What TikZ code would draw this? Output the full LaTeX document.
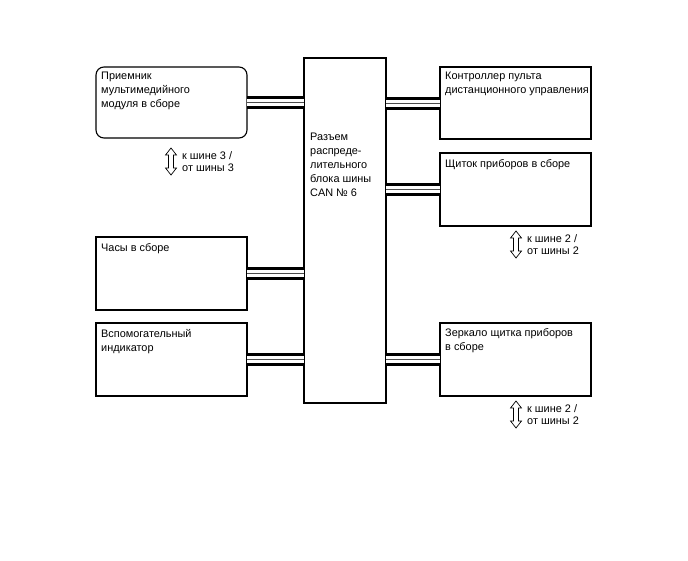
\documentclass[tikz,border=0pt]{standalone}
\usepackage{fontspec}
\setmainfont{Liberation Sans}
\usepackage{tikz}
\usetikzlibrary{positioning}

\begin{document}
\begin{tikzpicture}[x=1pt,y=-1pt,
    blok/.style={draw,line width=1.1pt,anchor=north west,inner sep=0pt,outer sep=0pt},
    nadpis/.style={anchor=north west,align=left,inner sep=0pt,font=\fontsize{10.9}{14}\selectfont},
    shina/.style={line width=3pt,double=white,double distance=7pt},
    zhila/.style={black!70,line width=0.9pt},
    strelka/.style={draw,line width=0.7pt,line join=miter},
    podpis/.style={align=left,inner sep=0pt,font=\fontsize{10.9}{11.5}\selectfont}]
  \useasboundingbox (0,0) rectangle (688,560);
  % central connector
  \node[blok,minimum width=82pt,minimum height=345pt] (razem) at (304,58) {};
  \node[nadpis] (razemtxt) at (310,133) {Разъем\\распреде-\\лительного\\блока шины\\CAN № 6};
  % left side
  \node[blok,rounded corners=8pt,minimum width=151pt,minimum height=71pt] (priem) at (96,67) {};
  \node[nadpis] (priemtxt) at ([xshift=5pt,yshift=-5pt]priem.north west) {Приемник\\мультимедийного\\модуля в сборе};
  \node[blok,minimum width=151pt,minimum height=73pt] (chasy) at (96,237) {};
  \node[nadpis] (chasytxt) at ([xshift=5pt,yshift=-6pt]chasy.north west) {Часы в сборе};
  \node[blok,minimum width=151pt,minimum height=73pt] (vspom) at (96,323) {};
  \node[nadpis] (vspomtxt) at ([xshift=5pt,yshift=-6pt]vspom.north west) {Вспомогательный\\индикатор};
  % right side
  \node[blok,minimum width=151pt,minimum height=72pt] (pult) at (440,67) {};
  \node[nadpis] (pulttxt) at ([xshift=5pt,yshift=-5pt]pult.north west) {Контроллер пульта\\дистанционного управления};
  \node[blok,minimum width=151pt,minimum height=73pt] (shchit) at (440,153) {};
  \node[nadpis] (shchittxt) at ([xshift=5pt,yshift=-6pt]shchit.north west) {Щиток приборов в сборе};
  \node[blok,minimum width=151pt,minimum height=73pt] (zerk) at (440,323) {};
  \node[nadpis] (zerktxt) at ([xshift=5pt,yshift=-5pt]zerk.north west) {Зеркало щитка приборов\\в сборе};
  % buses
  \foreach \b in {priem,chasy,vspom} {
    \draw[shina] (\b.east) -- (\b.east -| razem.west);
    \draw[zhila] (\b.east) -- (\b.east -| razem.west);
  }
  \foreach \b in {pult,shchit,zerk} {
    \draw[shina] (\b.west) -- (\b.west -| razem.east);
    \draw[zhila] (\b.west) -- (\b.west -| razem.east);
  }
  % to other buses
  \coordinate (str1) at (171,161.5);
  \coordinate (str2) at (516,244.5);
  \coordinate (str3) at (516,414.5);
  \foreach \s in {str1,str2,str3}
    \draw[strelka,shift={(\s)}] (0,-13.5) -- (5.5,-6.5) -- (2.5,-6.5) -- (2.5,6.5) -- (5.5,6.5)
      -- (0,13.5) -- (-5.5,6.5) -- (-2.5,6.5) -- (-2.5,-6.5) -- (-5.5,-6.5) -- cycle;
  \node[podpis,right=11pt of str1] (pod1) {к шине 3 /\\от шины 3};
  \node[podpis,right=11pt of str2] (pod2) {к шине 2 /\\от шины 2};
  \node[podpis,right=11pt of str3] (pod3) {к шине 2 /\\от шины 2};
\end{tikzpicture}
\end{document}
